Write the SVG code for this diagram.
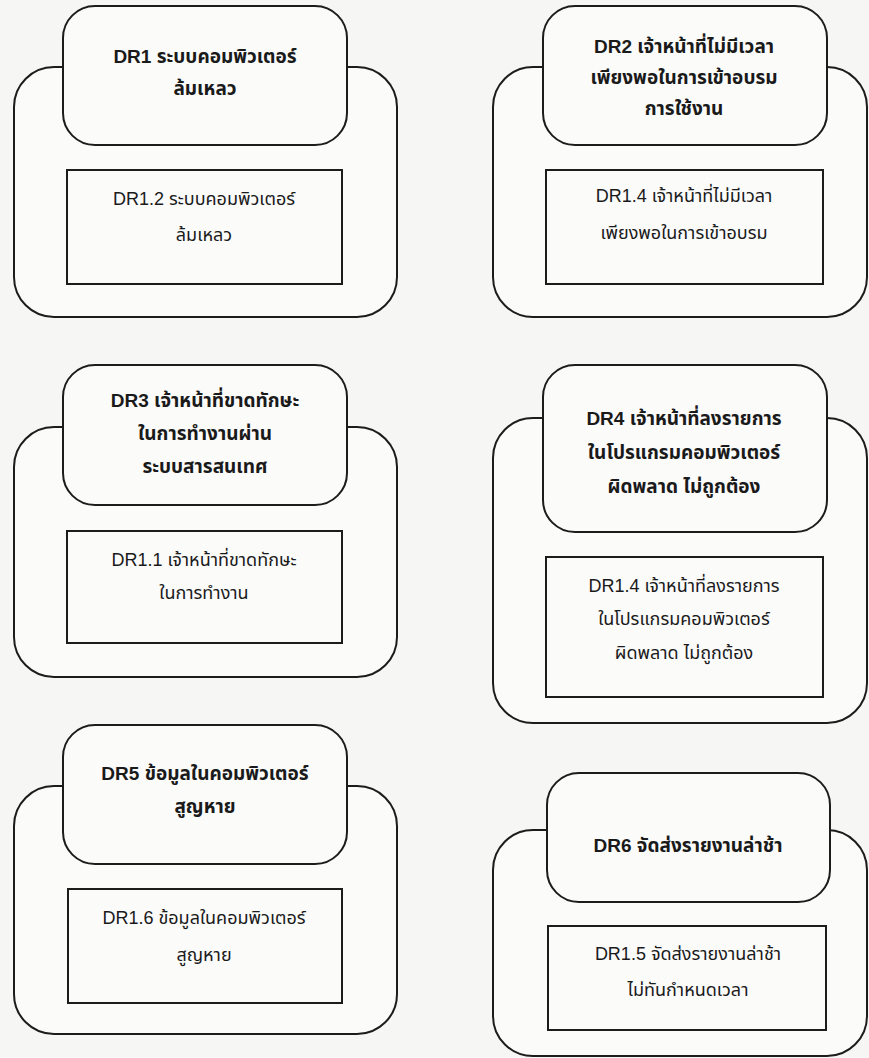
<svg xmlns="http://www.w3.org/2000/svg" width="869" height="1058" viewBox="0 0 869 1058">
  <style>
    .bg { fill: #f6f6f4; }
    .outer { fill: #fbfbfa; stroke: #1c1c1c; stroke-width: 2; }
    .head { fill: #fbfbfa; stroke: #1c1c1c; stroke-width: 2; }
    .inner { fill: #fbfbfa; stroke: #1c1c1c; stroke-width: 2; }
    text { font-family: "Liberation Sans", "Noto Sans Thai", "Noto Sans", "DejaVu Sans", sans-serif; fill: #1a1a1a; text-anchor: middle; }
    .ht { font-size: 19px; font-weight: bold; }
    .it { font-size: 18px; }
  </style>
  <rect class="bg" x="0" y="0" width="869" height="1058"/>

  <!-- DR1 -->
  <g id="node-dr1">
    <rect class="outer" x="14" y="67" width="383" height="250" rx="40"/>
    <rect class="head" x="63" y="6" width="284" height="139" rx="32"/>
    <text class="ht" x="205" y="63">DR1 ระบบคอมพิวเตอร์</text>
    <text class="ht" x="205" y="95">ล้มเหลว</text>
    <rect class="inner" x="67" y="170" width="275" height="114"/>
    <text class="it" x="204" y="205">DR1.2 ระบบคอมพิวเตอร์</text>
    <text class="it" x="204" y="241">ล้มเหลว</text>
  </g>

  <!-- DR2 -->
  <g id="node-dr2">
    <rect class="outer" x="493" y="67" width="374" height="250" rx="40"/>
    <rect class="head" x="543" y="6" width="284" height="139" rx="32"/>
    <text class="ht" x="684" y="53">DR2 เจ้าหน้าที่ไม่มีเวลา</text>
    <text class="ht" x="684" y="84">เพียงพอในการเข้าอบรม</text>
    <text class="ht" x="684" y="115">การใช้งาน</text>
    <rect class="inner" x="546" y="170" width="277" height="114"/>
    <text class="it" x="684" y="202">DR1.4 เจ้าหน้าที่ไม่มีเวลา</text>
    <text class="it" x="684" y="239">เพียงพอในการเข้าอบรม</text>
  </g>

  <!-- DR3 -->
  <g id="node-dr3">
    <rect class="outer" x="14" y="427" width="383" height="250" rx="40"/>
    <rect class="head" x="63" y="365" width="284" height="140" rx="32"/>
    <text class="ht" x="205" y="407">DR3 เจ้าหน้าที่ขาดทักษะ</text>
    <text class="ht" x="205" y="440">ในการทำงานผ่าน</text>
    <text class="ht" x="205" y="473">ระบบสารสนเทศ</text>
    <rect class="inner" x="67" y="531" width="275" height="112"/>
    <text class="it" x="204" y="566">DR1.1 เจ้าหน้าที่ขาดทักษะ</text>
    <text class="it" x="204" y="599">ในการทำงาน</text>
  </g>

  <!-- DR4 -->
  <g id="node-dr4">
    <rect class="outer" x="493" y="418" width="374" height="305" rx="40"/>
    <rect class="head" x="543" y="365" width="284" height="167" rx="32"/>
    <text class="ht" x="684" y="425">DR4 เจ้าหน้าที่ลงรายการ</text>
    <text class="ht" x="684" y="459">ในโปรแกรมคอมพิวเตอร์</text>
    <text class="ht" x="684" y="493">ผิดพลาด ไม่ถูกต้อง</text>
    <rect class="inner" x="546" y="557" width="277" height="140"/>
    <text class="it" x="684" y="592">DR1.4 เจ้าหน้าที่ลงรายการ</text>
    <text class="it" x="684" y="625">ในโปรแกรมคอมพิวเตอร์</text>
    <text class="it" x="684" y="659">ผิดพลาด ไม่ถูกต้อง</text>
  </g>

  <!-- DR5 -->
  <g id="node-dr5">
    <rect class="outer" x="14" y="786" width="383" height="248" rx="40"/>
    <rect class="head" x="63" y="725" width="284" height="139" rx="32"/>
    <text class="ht" x="205" y="780">DR5 ข้อมูลในคอมพิวเตอร์</text>
    <text class="ht" x="205" y="813">สูญหาย</text>
    <rect class="inner" x="68" y="889" width="274" height="114"/>
    <text class="it" x="204" y="924">DR1.6 ข้อมูลในคอมพิวเตอร์</text>
    <text class="it" x="204" y="961">สูญหาย</text>
  </g>

  <!-- DR6 -->
  <g id="node-dr6">
    <rect class="outer" x="493" y="830" width="374" height="226" rx="40"/>
    <rect class="head" x="547" y="773" width="283" height="129" rx="32"/>
    <text class="ht" x="688" y="852">DR6 จัดส่งรายงานล่าช้า</text>
    <rect class="inner" x="548" y="926" width="278" height="104"/>
    <text class="it" x="688" y="960">DR1.5 จัดส่งรายงานล่าช้า</text>
    <text class="it" x="688" y="996">ไม่ทันกำหนดเวลา</text>
  </g>

  <g id="connectors"/>
</svg>
